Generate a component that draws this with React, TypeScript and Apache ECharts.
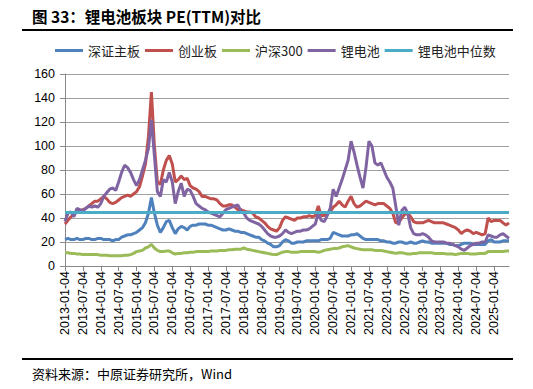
import React, { useEffect, useRef } from "react";
import * as echarts from "echarts";

// Monthly categories, 2013-01 .. 2025-06 (labels shown every 6 months)
const START_YEAR = 2013;
const N_POINTS = 150;
const categories: string[] = [];
for (let i = 0; i < N_POINTS; i++) {
  const y = START_YEAR + Math.floor(i / 12);
  const m = (i % 12) + 1;
  categories.push(`${y}-${m < 10 ? "0" + m : m}-04`);
}

const Y_TICKS = [0, 20, 40, 60, 80, 100, 120, 140, 160];

// 深证主板
const szMain = [
  22, 23, 22, 22, 23, 22, 22, 23, 23, 22, 22, 23,
  23, 22, 22, 22, 21, 22, 22, 24, 25, 26, 26, 27,
  28, 30, 32, 36, 44, 57, 44, 34, 28, 32, 37, 38,
  32, 27, 31, 33, 32, 30, 33, 34, 34, 35, 35,
  35, 34, 34, 33, 32, 31, 30, 30, 31, 30, 29, 29,
  28, 28, 27, 26, 25, 24, 24, 22, 21, 19, 18, 16,
  16, 17, 20, 22, 21, 19, 19, 20, 20, 20, 21, 21,
  21, 21, 21, 22, 22, 22, 23, 28, 27, 26, 25,
  25, 25, 26, 26, 27, 25, 23, 22, 22, 22, 22, 22,
  21, 21, 20, 20, 19, 19, 20, 20, 19, 19, 20, 19,
  19, 20, 21, 20, 20, 19, 19, 19, 19, 19, 19, 18,
  18, 17, 17, 18, 19, 19, 19, 18, 18, 18, 18, 18,
  21, 22, 20, 20, 20, 21, 21, 21,
];

// 创业板
const chinext = [
  35, 38, 41, 43, 45, 46, 47, 48, 50, 52, 54, 54,
  56, 58, 56, 53, 52, 53, 55, 57, 58, 59, 58, 60,
  62, 66, 75, 85, 108, 145, 100, 70, 68, 80, 88, 92,
  85, 70, 72, 75, 72, 73, 67, 65, 64, 62, 58,
  58, 57, 56, 56, 55, 52, 50, 50, 51, 51, 49, 47,
  47, 46, 45, 45, 44, 41, 40, 38, 36, 33, 31, 30,
  29, 32, 38, 41, 40, 39, 38, 40, 40, 41, 41, 42,
  41, 42, 50, 42, 42, 44, 45, 49, 51, 54, 51,
  49, 54, 58, 52, 49, 50, 52, 54, 53, 52, 51, 52,
  52, 52, 50, 48, 44, 36, 36, 40, 43, 44, 41, 37,
  36, 36, 36, 37, 38, 37, 36, 36, 36, 36, 35, 34,
  33, 32, 30, 27, 29, 30, 29, 27, 28, 27, 26, 27,
  40, 37, 38, 38, 38, 36, 34, 36,
];

// 沪深300
const csi300 = [
  11, 11, 10.5, 10.5, 10, 10, 9.5, 9.5, 9.5, 9.5, 9.5, 9.5,
  9, 9, 9, 8.5, 8.5, 8.5, 8.5, 8.5, 9, 9, 9.5, 10.5,
  12, 12.5, 13, 15, 16, 18, 15, 13, 12, 12, 12.5, 12.5,
  11, 10, 10.5, 10.5, 11, 11, 11.5, 11.5, 12, 12, 12,
  12, 12, 12.5, 12.5, 12.5, 13, 13, 13, 13.5, 13.5, 14, 14,
  14, 15, 14, 13.5, 13, 12.5, 12, 11.5, 11, 10.5, 10, 9.5,
  9.5, 10.5, 11.5, 12, 12, 11.5, 11.5, 11.5, 12, 12, 12, 12,
  12, 12, 11.5, 12, 13, 13.5, 14, 14.5, 14.5, 15, 16,
  16.5, 17, 16, 15, 14.5, 14, 13.5, 13.5, 13.5, 13.5, 13, 13,
  13, 12.5, 12, 11.5, 11, 10.5, 11, 11, 10.5, 10, 10, 10.5,
  10.5, 11, 11, 11, 11, 11, 10.5, 10.5, 10.5, 10.5, 10, 10,
  10, 9.5, 10, 10.5, 10.5, 10.5, 10, 10, 10, 10.5, 10.5, 10.5,
  12, 12, 12, 12, 12, 12, 12.5, 12.5,
];

// 锂电池
const lithium = [
  37, 44, 45, 41, 48, 47, 46, 48, 50, 49, 50, 49,
  52, 58, 61, 64, 65, 63, 70, 78, 84, 82, 78, 72,
  67, 72, 80, 88, 98, 122, 92, 62, 58, 72, 70, 78,
  70, 52, 62, 69, 58, 64, 63, 58, 52, 50, 48,
  47, 45, 44, 43, 42, 41, 44, 47, 48, 49, 50, 51,
  46, 44, 40, 38, 37, 36, 35, 33, 30, 27, 25, 24,
  24, 25, 27, 30, 28, 27, 28, 29, 29, 30, 30, 31,
  33, 35, 44, 38, 37, 42, 48, 64, 58, 65, 72,
  80, 88, 104, 95, 84, 74, 65, 82, 104, 100, 86, 84,
  86, 80, 74, 70, 65, 50, 34, 46, 49, 44, 32, 27,
  26, 26, 27, 26, 24, 21, 20, 20, 20, 20, 19, 19,
  18, 17, 16, 14, 13, 15, 17, 18, 19, 19, 20, 20,
  26, 25, 24, 24, 26, 27, 25, 23,
];

// 锂电池中位数
const LITHIUM_MEDIAN = 44.5;
const lithiumMedian = categories.map(() => LITHIUM_MEDIAN);

const SERIES_NAMES = ["深证主板", "创业板", "沪深300", "锂电池", "锂电池中位数"];
const COLORS = ["#4f81bd", "#c0504d", "#9bbb59", "#8064a2", "#4bacc6"];

const FONT = "'Liberation Sans', Arial, 'Noto Sans CJK SC', sans-serif";
const CJK = "'Noto Sans CJK SC', 'Liberation Sans', sans-serif";

export default function App() {
  const ref = useRef<HTMLDivElement>(null);
  useEffect(() => {
    if (!ref.current) return;
    const chart = echarts.init(ref.current, undefined, { renderer: "svg" });
    const dataSets = [szMain, chinext, csi300, lithium, lithiumMedian];
    chart.setOption({
      animation: false,
      backgroundColor: "#ffffff",
      graphic: [
        {
          type: "text",
          left: 32,
          top: 8,
          style: {
            text: "图 33：锂电池板块 PE(TTM)对比",
            font: `bold 15.5px ${CJK}`,
            fill: "#000",
          },
        },
        {
          type: "line",
          shape: { x1: 22, y1: 30, x2: 513, y2: 30 },
          style: { stroke: "#000", lineWidth: 2 },
        },
        {
          type: "line",
          shape: { x1: 22, y1: 359, x2: 513, y2: 359 },
          style: { stroke: "#000", lineWidth: 2 },
        },
        {
          type: "text",
          left: 32,
          top: 367,
          style: {
            text: "资料来源：中原证券研究所，Wind",
            font: `13px ${CJK}`,
            fill: "#000",
          },
        },
      ],
      legend: {
        left: 50,
        top: 39,
        icon: "rect",
        itemWidth: 28,
        itemHeight: 3,
        itemGap: 5,
        textStyle: { fontSize: 13, fontFamily: CJK, color: "#222" },
        data: SERIES_NAMES,
      },
      grid: { left: 65, right: 24, top: 74, bottom: 123, containLabel: false },
      xAxis: {
        type: "category",
        data: categories,
        boundaryGap: false,
        axisLine: { lineStyle: { color: "#888", width: 1 } },
        axisTick: { interval: 5, length: 5, lineStyle: { color: "#888" } },
        axisLabel: {
          interval: 5,
          rotate: 90,
          fontSize: 12.5,
          fontFamily: FONT,
          color: "#000",
          margin: 5,
        },
        splitLine: { show: false },
      },
      yAxis: {
        type: "value",
        min: Y_TICKS[0],
        max: Y_TICKS[Y_TICKS.length - 1],
        interval: 20,
        axisLine: { show: true, lineStyle: { color: "#888", width: 1 } },
        axisTick: { show: true, length: 5, lineStyle: { color: "#888" } },
        axisLabel: { fontSize: 12.5, fontFamily: FONT, color: "#000", margin: 10 },
        splitLine: { lineStyle: { color: "#a0a0a0", width: 1 } },
      },
      series: SERIES_NAMES.map((name, i) => ({
        name,
        type: "line",
        data: dataSets[i],
        symbol: "none",
        smooth: false,
        color: COLORS[i],
        lineStyle: { color: COLORS[i], width: 3 },
        z: 2 + i,
      })),
    });
    return () => chart.dispose();
  }, []);
  return (
    <div
      ref={ref}
      style={{ position: "fixed", left: 0, top: 0, width: 533, height: 389 }}
    />
  );
}
